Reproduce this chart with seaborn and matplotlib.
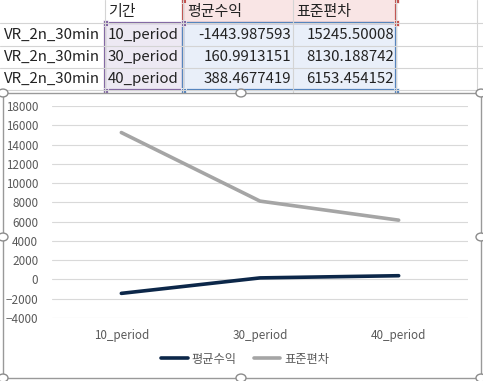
import numpy as np
import pandas as pd
import matplotlib
matplotlib.use('Agg')
import matplotlib.pyplot as plt
from matplotlib.patches import Rectangle, Circle
from matplotlib.lines import Line2D
import seaborn as sns

# data
row_label = 'VR_2n_30min'
periods = ['10_period', '30_period', '40_period']
mean_return = [-1443.987593, 160.9913151, 388.4677419]
std_dev = [15245.50008, 8130.188742, 6153.454152]
headers = ['기간', '평균수익', '표준편차']
y_ticks = list(range(-4000, 18001, 2000))

sns.set_theme(style='white')
plt.rcParams['font.family'] = ['Noto Sans CJK KR', 'DejaVu Sans']

W, H = 483, 381
fig = plt.figure(figsize=(W / 100, H / 100), dpi=100)
fig.patch.set_facecolor('white')


def px(x):
    return x / W


def py(y):
    return 1 - y / H


def rect(x0, y0, x1, y1, **kw):
    fig.patches.append(Rectangle((px(x0), py(y1)), px(x1) - px(x0), py(y0) - py(y1),
                                 transform=fig.transFigure, **kw))


def hline(y, x0, x1, **kw):
    fig.lines.append(Line2D([px(x0), px(x1)], [py(y), py(y)], transform=fig.transFigure, **kw))


def vline(x, y0, y1, **kw):
    fig.lines.append(Line2D([px(x), px(x)], [py(y0), py(y1)], transform=fig.transFigure, **kw))


# ---- spreadsheet part ----
rect(183, 0, 396, 23, facecolor='#F9E5E5', edgecolor='none')
rect(183, 23, 396, 90, facecolor='#E9EFF9', edgecolor='none')
rect(105, 23, 183, 90, facecolor='#EDE9F3', edgecolor='none')

grid_c = '#D4D4D4'
for yy in [23, 46, 68, 90]:
    hline(yy, 0, W, color=grid_c, lw=0.8)
for xx in [105, 183, 293, 396, 477]:
    vline(xx, 0, 92, color=grid_c, lw=0.8)

rect(105, 23, 183, 90, facecolor='none', edgecolor='#8064A2', lw=1.6)
rect(183, -3, 396, 23, facecolor='none', edgecolor='#C0504D', lw=1.6)
rect(183, 23, 396, 90, facecolor='none', edgecolor='#4F81BD', lw=1.6)
for (cx, cy, c) in [(105, 23, '#8064A2'), (183, 23, '#8064A2'), (105, 90, '#8064A2'),
                    (183, 90, '#8064A2'), (396, 23, '#C0504D'), (183, 0, '#C0504D'),
                    (396, 0, '#C0504D'), (396, 90, '#4F81BD'), (183, 90, '#4F81BD')]:
    rect(cx - 2.5, cy - 2.5, cx + 2.5, cy + 2.5, facecolor=c, edgecolor='white', lw=0.5)

fs = 10.8
tc = '#222222'
fig.text(px(108), py(12), headers[0], fontsize=fs, color=tc, va='center', ha='left')
fig.text(px(187), py(12), headers[1], fontsize=fs, color=tc, va='center', ha='left')
fig.text(px(296), py(12), headers[2], fontsize=fs, color=tc, va='center', ha='left')
for i, yy in enumerate([35, 57, 79]):
    fig.text(px(4), py(yy), row_label, fontsize=fs, color=tc, va='center', ha='left')
    fig.text(px(108), py(yy), periods[i], fontsize=fs, color=tc, va='center', ha='left')
    fig.text(px(291), py(yy), f'{mean_return[i]:.10g}', fontsize=fs, color=tc, va='center', ha='right')
    fig.text(px(394), py(yy), f'{std_dev[i]:.10g}', fontsize=fs, color=tc, va='center', ha='right')

# ---- chart part ----
rect(3, 93, 481, 378, facecolor='white', edgecolor='#999999', lw=1.0, zorder=2)

ax = fig.add_axes([px(52), py(318), px(468) - px(52), py(106) - py(318)], zorder=3)
ax.patch.set_alpha(0)

df = pd.DataFrame({
    'period': periods * 2,
    'value': mean_return + std_dev,
    'series': [headers[1]] * 3 + [headers[2]] * 3,
})
sns.lineplot(data=df, x='period', y='value', hue='series', sort=False,
             palette=['#0C2749', '#A5A5A5'], linewidth=2.6, ax=ax, legend=False)

ax.set_xlim(-0.5, 2.5)
ax.set_ylim(-4000, 18000)
ax.set_yticks(y_ticks)
ax.yaxis.grid(True, color='#D9D9D9', lw=0.8)
ax.set_axisbelow(True)
for s in ax.spines.values():
    s.set_visible(False)
ax.tick_params(length=0, labelsize=8.4, labelcolor='#595959')
ax.tick_params(axis='y', pad=10)
ax.tick_params(axis='x', pad=8)
ax.set_xlabel('')
ax.set_ylabel('')

handles = [Line2D([], [], color='#0C2749', lw=2.6), Line2D([], [], color='#A5A5A5', lw=2.6)]
leg = fig.legend(handles, headers[1:], loc='center', bbox_to_anchor=(px(245), py(359)),
                 ncol=2, frameon=False, fontsize=8.8, handlelength=2.2,
                 handletextpad=0.3, columnspacing=1.4)
for t in leg.get_texts():
    t.set_color('#595959')

# resize handles on the chart frame
for (cx, cy) in [(3, 93), (241, 93), (481, 93), (3, 237), (481, 237), (3, 378), (241, 378), (481, 378)]:
    fig.patches.append(Circle((px(cx), py(cy)), 5 / W, transform=fig.transFigure,
                              facecolor='white', edgecolor='#8C8C8C', lw=1.0, zorder=5))

fig.savefig('out.png', dpi=100)
